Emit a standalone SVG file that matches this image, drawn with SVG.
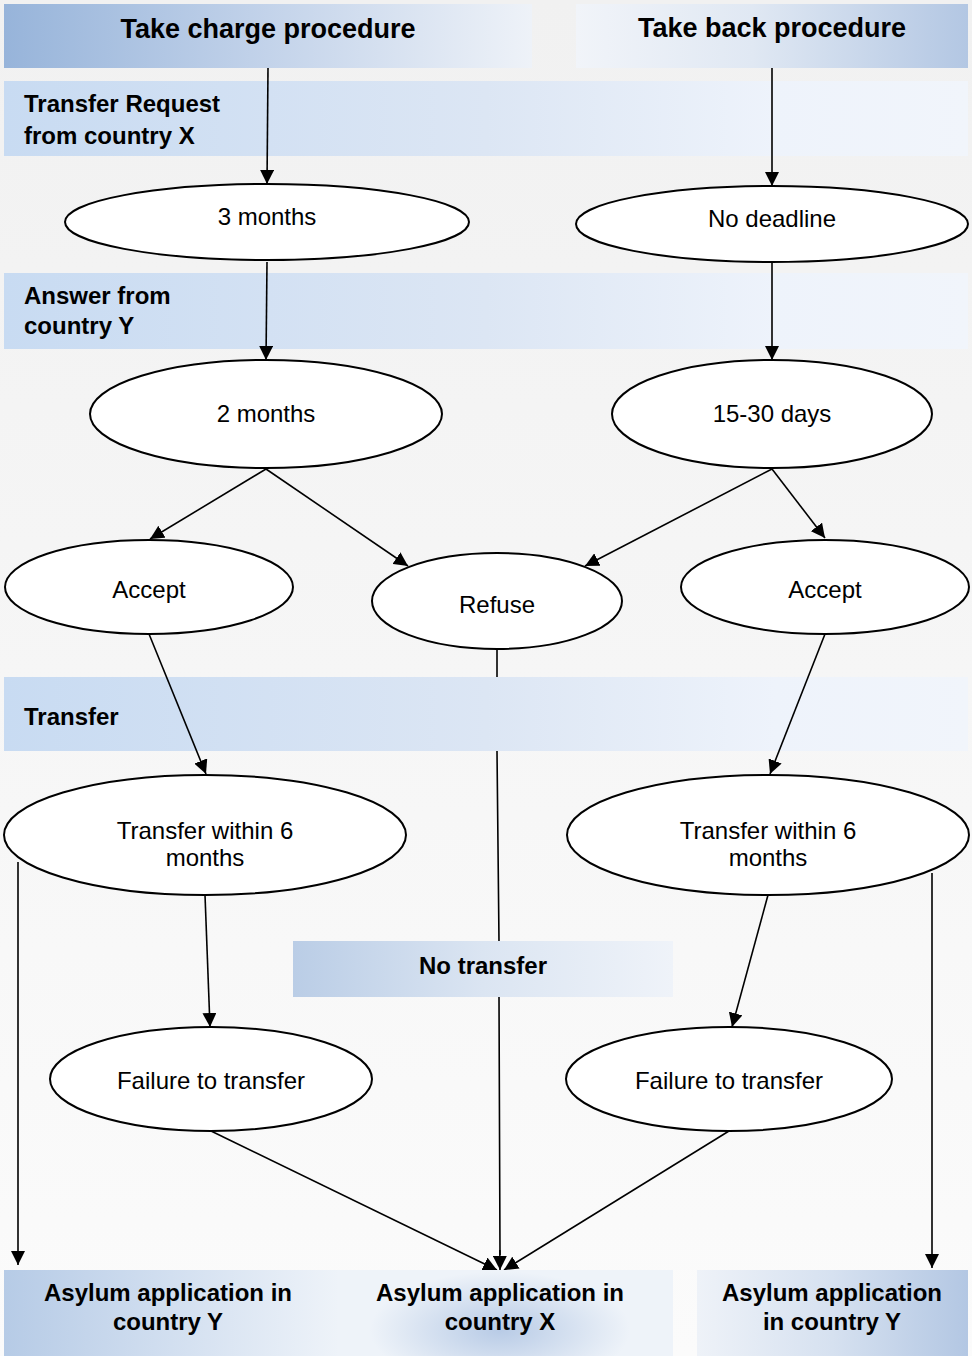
<svg xmlns="http://www.w3.org/2000/svg" width="972" height="1356" viewBox="0 0 972 1356">
<defs>
<linearGradient id="bg" x1="0" y1="0" x2="0" y2="1"><stop offset="0" stop-color="#f1f1f1"/><stop offset="1" stop-color="#fbfbfb"/></linearGradient>
<linearGradient id="hl" x1="0" y1="0" x2="1" y2="0"><stop offset="0" stop-color="#97b4da"/><stop offset="0.5" stop-color="#c3d3ea"/><stop offset="1" stop-color="#eef2f8"/></linearGradient>
<linearGradient id="hr" x1="0" y1="0" x2="1" y2="0"><stop offset="0" stop-color="#f1f4f9"/><stop offset="0.45" stop-color="#e0e8f3"/><stop offset="1" stop-color="#b3c7e3"/></linearGradient>
<linearGradient id="band" x1="0" y1="0" x2="1" y2="0"><stop offset="0" stop-color="#c8dbf2"/><stop offset="0.5" stop-color="#dce6f4"/><stop offset="0.8" stop-color="#eef3fb"/><stop offset="1" stop-color="#f1f5fb"/></linearGradient>
<linearGradient id="nt" x1="0" y1="0" x2="1" y2="0"><stop offset="0" stop-color="#bacde6"/><stop offset="0.5" stop-color="#dbe5f2"/><stop offset="1" stop-color="#eff3f9"/></linearGradient>
<linearGradient id="bl" x1="0" y1="0" x2="1" y2="0"><stop offset="0" stop-color="#b6cbe6"/><stop offset="0.25" stop-color="#d2dff0"/><stop offset="0.5" stop-color="#eef3f9"/><stop offset="1" stop-color="#eef3f9"/></linearGradient>
<radialGradient id="bm" cx="500" cy="1330" r="130" gradientUnits="userSpaceOnUse" gradientTransform="translate(500 1330) scale(1 0.45) translate(-500 -1330)"><stop offset="0" stop-color="#b8cbe6"/><stop offset="1" stop-color="#b8cbe6" stop-opacity="0"/></radialGradient>
<linearGradient id="br" x1="0" y1="0" x2="1" y2="0"><stop offset="0" stop-color="#eef2f8"/><stop offset="0.5" stop-color="#d6e1f0"/><stop offset="1" stop-color="#b3c7e3"/></linearGradient>
<marker id="ah" viewBox="0 0 10 10" refX="10" refY="5" markerWidth="14" markerHeight="14" markerUnits="userSpaceOnUse" orient="auto"><path d="M0,0 L10,5 L0,10 z" fill="#000"/></marker>
<style>
.ell{fill:#fff;stroke:#000;stroke-width:2}
.t{font-family:"Liberation Sans",Arial,sans-serif;font-size:24px;fill:#000;text-anchor:middle}
.b{font-family:"Liberation Sans",Arial,sans-serif;font-weight:bold;font-size:24px;fill:#000}
.h{font-size:27px}
.m{text-anchor:middle}
.c{fill:none;stroke:#000;stroke-width:1.6}
</style>
</defs>
<rect x="0" y="0" width="972" height="1356" fill="url(#bg)"/>
<g id="bands">
<rect x="4" y="81" width="964" height="75" fill="url(#band)"/>
<rect x="4" y="273" width="964" height="76" fill="url(#band)"/>
<rect x="4" y="677" width="964" height="74" fill="url(#band)"/>
<text class="b" x="24" y="112">Transfer Request</text>
<text class="b" x="24" y="144">from country X</text>
<text class="b" x="24" y="304">Answer from</text>
<text class="b" x="24" y="334">country Y</text>
<text class="b" x="24" y="725">Transfer</text>
</g>
<g id="header-left"><rect x="4" y="4" width="528" height="64" fill="url(#hl)"/><text class="b h m" x="268" y="38">Take charge procedure</text></g>
<g id="header-right"><rect x="576" y="4" width="392" height="64" fill="url(#hr)"/><text class="b h m" x="772" y="37">Take back procedure</text></g>
<g id="connectors">
<path class="c" d="M268,68 L267,184" marker-end="url(#ah)"/>
<path class="c" d="M772,68 L772,186" marker-end="url(#ah)"/>
<path class="c" d="M267,262 L266,360" marker-end="url(#ah)"/>
<path class="c" d="M772,262 L772,360" marker-end="url(#ah)"/>
<path class="c" d="M266,469 L150,539" marker-end="url(#ah)"/>
<path class="c" d="M266,469 L408,566" marker-end="url(#ah)"/>
<path class="c" d="M772,469 L585,566" marker-end="url(#ah)"/>
<path class="c" d="M772,469 L825,538" marker-end="url(#ah)"/>
<path class="c" d="M149,634 L206,774" marker-end="url(#ah)"/>
<path class="c" d="M825,634 L770,774" marker-end="url(#ah)"/>
<path class="c" d="M497,649 L497,677 M497,751 L499,941 M499,997 L500,1255"/>
<path class="c" d="M499.8,1250 L500,1270" marker-end="url(#ah)"/>
<path class="c" d="M205,895 L210,1027" marker-end="url(#ah)"/>
<path class="c" d="M768,895 L732,1027" marker-end="url(#ah)"/>
<path class="c" d="M18,862 L18,1265" marker-end="url(#ah)"/>
<path class="c" d="M932,873 L932,1268" marker-end="url(#ah)"/>
<path class="c" d="M211,1131 L497,1270" marker-end="url(#ah)"/>
<path class="c" d="M729,1131 L504,1270" marker-end="url(#ah)"/>
</g>
<g id="n-3months"><ellipse class="ell" cx="267" cy="222" rx="202" ry="38"/><text class="t" x="267" y="225">3 months</text></g>
<g id="n-nodeadline"><ellipse class="ell" cx="772" cy="224" rx="196" ry="38"/><text class="t" x="772" y="227">No deadline</text></g>
<g id="n-2months"><ellipse class="ell" cx="266" cy="414" rx="176" ry="54"/><text class="t" x="266" y="422">2 months</text></g>
<g id="n-1530days"><ellipse class="ell" cx="772" cy="414" rx="160" ry="54"/><text class="t" x="772" y="422">15-30 days</text></g>
<g id="n-accept-left"><ellipse class="ell" cx="149" cy="587" rx="144" ry="47"/><text class="t" x="149" y="598">Accept</text></g>
<g id="n-refuse"><ellipse class="ell" cx="497" cy="601" rx="125" ry="48"/><text class="t" x="497" y="613">Refuse</text></g>
<g id="n-accept-right"><ellipse class="ell" cx="825" cy="587" rx="144" ry="47"/><text class="t" x="825" y="598">Accept</text></g>
<g id="n-transfer-left"><ellipse class="ell" cx="205" cy="835" rx="201" ry="60"/><text class="t" x="205" y="839">Transfer within 6</text><text class="t" x="205" y="866">months</text></g>
<g id="n-transfer-right"><ellipse class="ell" cx="768" cy="835" rx="201" ry="60"/><text class="t" x="768" y="839">Transfer within 6</text><text class="t" x="768" y="866">months</text></g>
<g id="n-notransfer"><rect x="293" y="941" width="380" height="56" fill="url(#nt)"/><text class="b m" x="483" y="974">No transfer</text></g>
<g id="n-failure-left"><ellipse class="ell" cx="211" cy="1079" rx="161" ry="52"/><text class="t" x="211" y="1089">Failure to transfer</text></g>
<g id="n-failure-right"><ellipse class="ell" cx="729" cy="1079" rx="163" ry="52"/><text class="t" x="729" y="1089">Failure to transfer</text></g>
<g id="n-bottom-left-mid">
<rect x="4" y="1270" width="669" height="86" fill="url(#bl)"/>
<rect x="330" y="1270" width="343" height="86" fill="url(#bm)"/>
<text class="b m" x="168" y="1301">Asylum application in</text>
<text class="b m" x="168" y="1330">country Y</text>
<text class="b m" x="500" y="1301">Asylum application in</text>
<text class="b m" x="500" y="1330">country X</text>
</g>
<g id="n-bottom-right"><rect x="697" y="1270" width="271" height="86" fill="url(#br)"/><text class="b m" x="832" y="1301">Asylum application</text><text class="b m" x="832" y="1330">in country Y</text></g>
</svg>
